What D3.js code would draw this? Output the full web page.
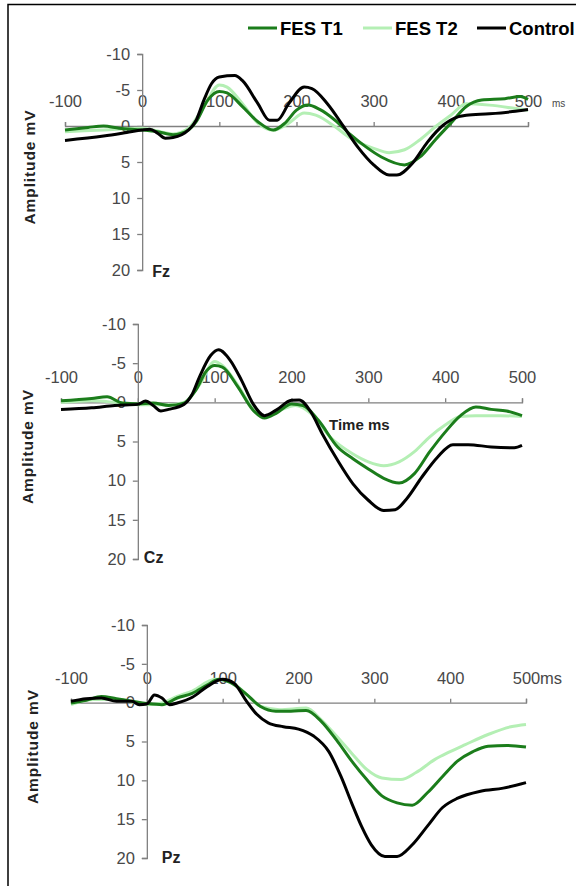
<!DOCTYPE html>
<html>
<head>
<meta charset="utf-8">
<script src="https://cdn.jsdelivr.net/npm/d3@7"></script>
<style>
  body { margin: 0; background: #fff; }
  svg { display: block; font-family: "Liberation Sans", Arial, sans-serif; }
</style>
</head>
<body>
<div id="chart"></div>
<script>
// series and axis values
var seriesNames = ["FES T1", "FES T2", "Control"];
var timeTicks = [-100, 0, 100, 200, 300, 400, 500];
var ampTicks = [-10, -5, 0, 5, 10, 15, 20];

// [time ms, amplitude]
var fzT1 = [[-100,0.55],[-70,0.2],[-50,0],[-30,0.3],[0,0.55],[20,0.8],[40,1.2],[60,0.55],[70,-0.6],[85,-3.6],[100,-4.8],[110,-4.6],[130,-2.7],[150,-0.6],[170,0.55],[185,-0.4],[200,-2.2],[215,-2.9],[230,-2.3],[250,-0.8],[270,1.2],[290,2.9],[310,4.3],[340,5.4],[360,4.3],[380,1.9],[400,-0.4],[420,-2.7],[440,-3.6],[470,-3.8],[490,-4.1],[500,-3.7]];
var fzT2 = [[-100,0.8],[-50,0.55],[0,0.3],[40,1.1],[60,0.3],[80,-2.7],[100,-5.7],[110,-5.4],[130,-3.1],[150,-0.4],[170,0.6],[190,-0.4],[210,-1.8],[225,-1.5],[250,0.1],[270,1.7],[300,3.1],[320,3.7],[340,3.3],[360,1.9],[380,0.1],[400,-1.5],[420,-3.1],[450,-2.9],[480,-2.5],[500,-2.2]];
var fzCtrl = [[-100,2.0],[-50,1.4],[-20,0.9],[0,0.55],[10,0.45],[20,1.0],[30,1.7],[40,1.6],[60,0.55],[70,-0.8],[80,-3.6],[90,-5.9],[100,-6.8],[120,-7.0],[130,-6.3],[150,-3.1],[165,-0.8],[175,-0.8],[190,-3.1],[210,-5.4],[220,-5.2],[240,-3.1],[260,-0.1],[280,3.0],[300,5.4],[320,6.8],[330,6.8],[350,5.2],[370,2.2],[390,-0.1],[410,-1.3],[420,-1.5],[450,-1.7],[480,-2.0],[500,-2.3]];

var czT1 = [[-100,-0.2],[-60,-0.5],[-40,-0.7],[-20,0.1],[0,0.2],[20,0.1],[40,0.4],[60,0.1],[75,-1.5],[90,-4.1],[100,-4.7],[110,-4.5],[130,-2.0],[150,1.0],[165,2.0],[180,1.4],[200,0.2],[215,0.4],[235,2.3],[260,5.7],[280,7.2],[300,8.5],[320,9.7],[340,10.3],[360,9.1],[380,6.3],[400,3.8],[420,1.7],[440,0.6],[460,0.9],[480,1.1],[500,1.7]];
var czT2 = [[-100,0],[-60,-0.2],[-30,0],[0,0.3],[40,0.3],[60,0],[80,-2.2],[100,-5.2],[110,-4.7],[130,-2.2],[150,0.8],[165,1.8],[185,1.0],[205,0.4],[225,1.4],[250,4.4],[280,6.6],[300,7.6],[320,8.1],[340,7.6],[360,6.3],[380,4.4],[400,2.9],[420,1.8],[440,1.7],[470,1.7],[500,1.8]];
var czCtrl = [[-100,0.9],[-60,0.7],[-30,0.4],[0,0.26],[10,-0.17],[20,0.4],[30,1.1],[40,0.9],[60,0.26],[70,-0.9],[80,-3.2],[95,-6.0],[105,-6.7],[120,-5.4],[135,-2.8],[150,0.2],[165,1.7],[180,1.0],[200,-0.26],[210,-0.3],[225,1.2],[240,4.0],[260,7.4],[280,10.4],[300,12.5],[320,13.8],[335,13.7],[350,12.3],[370,9.5],[390,7.0],[410,5.4],[430,5.4],[460,5.7],[490,5.8],[500,5.5]];

var pzT1 = [[-100,0.04],[-80,-0.3],[-60,-0.8],[-40,-0.5],[-20,-0.2],[0,0.1],[20,0.26],[40,-0.6],[60,-1.2],[80,-2.3],[95,-3.0],[110,-2.6],[130,-1.2],[150,0.5],[170,1.1],[190,1.1],[210,1.0],[230,2.4],[250,4.8],[270,7.5],[290,9.9],[310,12.0],[330,12.9],[350,13.2],[370,11.6],[390,9.5],[410,7.5],[430,6.3],[450,5.6],[475,5.5],[500,5.7]];
var pzT2 = [[-100,0.26],[-70,-0.4],[-40,-0.4],[-10,0.1],[0,0.26],[20,0.04],[40,-0.8],[60,-1.5],[90,-3.0],[110,-2.7],[130,-1.2],[150,0.5],[175,0.9],[210,0.7],[230,2.2],[250,4.3],[270,6.5],[290,8.6],[310,9.7],[335,9.9],[355,9.0],[380,7.3],[400,6.3],[420,5.4],[450,4.1],[480,3.1],[500,2.8]];
var pzCtrl = [[-100,-0.17],[-80,-0.5],[-60,-0.6],[-40,-0.17],[-20,-0.17],[-10,0.26],[0,0.17],[10,-1.0],[20,-0.6],[30,0.26],[40,0.04],[60,-0.7],[80,-2.1],[100,-3.0],[115,-2.5],[130,-0.4],[145,1.5],[160,2.6],[180,3.1],[200,3.4],[220,4.3],[240,6.3],[256,9.5],[270,12.9],[283,15.9],[296,18.3],[314,19.8],[330,19.8],[350,18.3],[370,15.9],[390,13.5],[410,12.3],[440,11.4],[470,11.0],[500,10.3]];

var colors = ["#1b7d1b", "#b4efb4", "#000000"];

var svgWidth = 576;
var svgHeight = 886;

var svg = d3.select("#chart")
  .append("svg")
  .attr("width", svgWidth)
  .attr("height", svgHeight);

// frame (runs off the right and bottom edges in the original)
svg.append("rect")
  .attr("x", 8)
  .attr("y", 4.5)
  .attr("width", 640)
  .attr("height", 940)
  .attr("fill", "#fff")
  .attr("stroke", "#000")
  .attr("stroke-width", 1.5);

// legend
var legendX = [248, 363, 477];
seriesNames.forEach(function(name, i) {
  svg.append("line")
    .attr("x1", legendX[i])
    .attr("x2", legendX[i] + 29)
    .attr("y1", 28)
    .attr("y2", 28)
    .attr("stroke", colors[i])
    .attr("stroke-width", 3);
  svg.append("text")
    .attr("x", legendX[i] + 32)
    .attr("y", 34.5)
    .attr("font-size", "18.5px")
    .attr("font-weight", "bold")
    .attr("fill", "#000")
    .text(name);
});

var panels = [
  { label: "Fz", series: [fzT2, fzT1, fzCtrl], xr: [65, 528], yr: [54, 270], yLabelX: 35, nameDx: 10, nameY: 277 },
  { label: "Cz", series: [czT2, czT1, czCtrl], xr: [61, 522], yr: [324, 559], yLabelX: 33, nameDx: 6, nameY: 563 },
  { label: "Pz", series: [pzT2, pzT1, pzCtrl], xr: [71, 526], yr: [625, 858], yLabelX: 38, nameDx: 15, nameY: 863 }
];
var drawColors = [colors[1], colors[0], colors[2]];

panels.forEach(function(p, pi) {
  var x = d3.scaleLinear().domain([-100, 500]).range(p.xr);
  var y = d3.scaleLinear().domain([-10, 20]).range(p.yr);

  var g = svg.append("g");

  var xAxis = g.append("g")
    .attr("transform", `translate(0, ${y(0)})`)
    .call(d3.axisTop(x).tickValues(timeTicks).tickFormat(d => String(d))
      .tickSize(4).tickSizeOuter(4).tickPadding(15));

  var yAxis = g.append("g")
    .attr("transform", `translate(${x(0)}, 0)`)
    .call(d3.axisLeft(y).tickValues(ampTicks).tickFormat(d => String(d))
      .tickSize(5).tickSizeOuter(5).tickPadding(7));

  [xAxis, yAxis].forEach(function(a) {
    a.selectAll("path, line").attr("stroke", "#808080").attr("stroke-width", 1.3);
    a.selectAll("text")
      .attr("fill", "#484848")
      .attr("font-size", "16.5px")
      .attr("font-family", "'Liberation Sans', Arial, sans-serif");
  });

  // y axis title
  g.append("text")
    .attr("transform", `translate(${p.yLabelX}, ${(p.yr[0] + p.yr[1]) / 2 + 5}) rotate(-90)`)
    .attr("text-anchor", "middle")
    .attr("font-size", "15.5px")
    .attr("font-weight", "bold")
    .attr("letter-spacing", "0.9px")
    .attr("fill", "#222")
    .text("Amplitude mV");

  // electrode name
  g.append("text")
    .attr("x", x(0) + p.nameDx)
    .attr("y", p.nameY)
    .attr("font-size", "16px")
    .attr("font-weight", "bold")
    .attr("fill", "#222")
    .text(p.label);

  var line = d3.line()
    .x(d => x(d[0]))
    .y(d => y(d[1]))
    .curve(d3.curveMonotoneX);

  p.series.forEach(function(s, i) {
    g.append("path")
      .datum(s)
      .attr("d", line)
      .attr("fill", "none")
      .attr("stroke", drawColors[i])
      .attr("stroke-width", 3)
      .attr("stroke-linejoin", "round");
  });

  if (pi === 0) {
    g.append("text")
      .attr("x", 552)
      .attr("y", y(0) - 19)
      .attr("font-size", "10px")
      .attr("fill", "#484848")
      .text("ms");
  }
  if (pi === 1) {
    g.append("text")
      .attr("x", 329)
      .attr("y", 430)
      .attr("font-size", "15px")
      .attr("font-weight", "bold")
      .attr("fill", "#222")
      .text("Time ms");
  }
  if (pi === 2) {
    g.append("text")
      .attr("x", x(500) + 14)
      .attr("y", y(0) - 19)
      .attr("font-size", "16.5px")
      .attr("fill", "#484848")
      .text("ms");
  }
});
</script>
</body>
</html>
